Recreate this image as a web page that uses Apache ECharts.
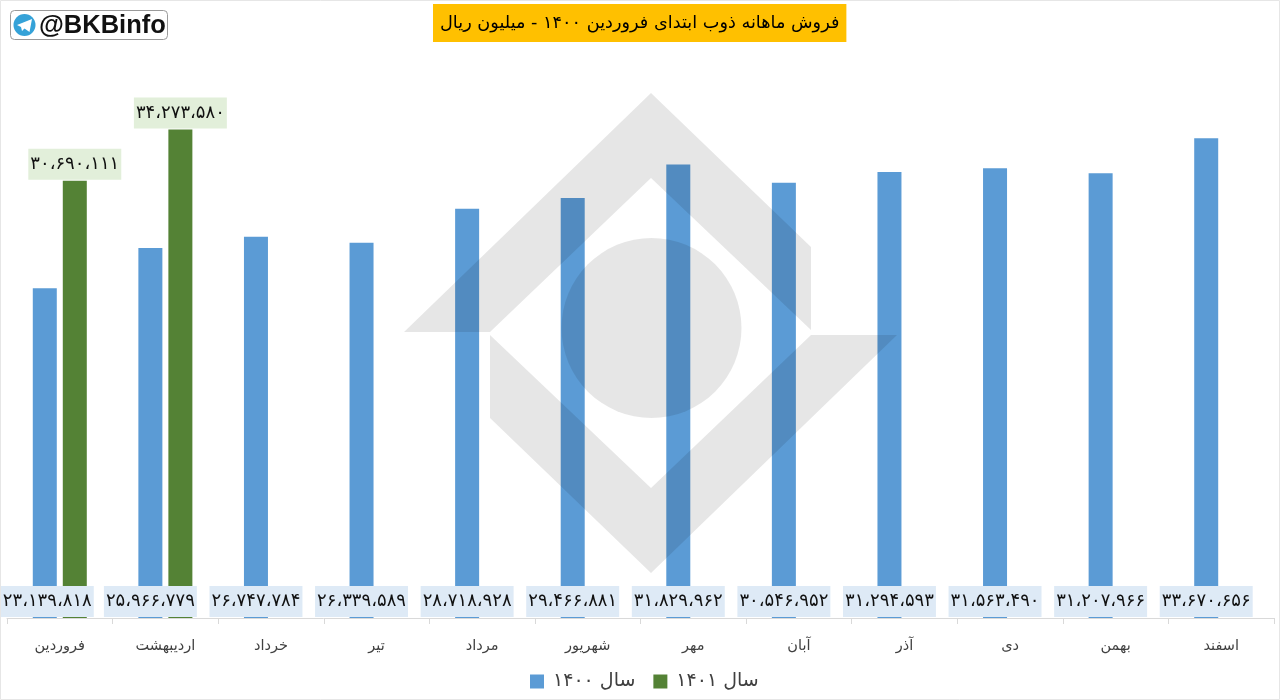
<!DOCTYPE html>
<html>
<head>
<meta charset="utf-8">
<title>فروش ماهانه ذوب</title>
<style>
	html,body{margin:0;padding:0;background:#fff;}
	#main{width:1280px;height:700px;}
</style>
<script src="https://cdn.jsdelivr.net/npm/echarts@6/dist/echarts.min.js"></script>
</head>
<body>
<div id="main"></div>
<script>
var months=['فروردین','اردیبهشت','خرداد','تیر','مرداد','شهریور','مهر','آبان','آذر','دی','بهمن','اسفند'];
var sales1400=[23139818,25966779,26747784,26339589,28718928,29466881,31829962,30546952,31294593,31563490,31207966,33670656];
var sales1401=[30690111,34273580,null,null,null,null,null,null,null,null,null,null];
var seriesNames=['سال ۱۴۰۰','سال ۱۴۰۱'];
var titleText='فروش ماهانه ذوب ابتدای فروردین ۱۴۰۰ - میلیون ریال';
var faFont='"DejaVu Sans", sans-serif';

//عدد را با ارقام فارسی و جداکننده هزارگان نشان می دهد
function toFa(v){
	var s=String(v).replace(/\B(?=(\d{3})+$)/g,'،');
	return s.replace(/\d/g,function(d){return '۰۱۲۳۴۵۶۷۸۹'.charAt(+d);});
}

var chart=echarts.init(document.getElementById('main'),null,{renderer:'canvas'});

//لوگوی پس زمینه و برچسب تلگرام
var wmStyle={fill:'rgba(0,0,0,0.098)'};
var graphics=[
	{type:'polygon',z:50,silent:true,shape:{points:[[404,332],[651,93],[811,247],[811,330],[651,178],[490,332]]},style:wmStyle},
	{type:'polygon',z:50,silent:true,shape:{points:[[490,335],[490,418],[651,573],[897,335],[811,335],[651,488]]},style:wmStyle},
	{type:'circle',z:50,silent:true,shape:{cx:651.5,cy:328,r:90},style:wmStyle},
	{type:'rect',z:60,silent:true,shape:{x:0.5,y:0.5,width:1279,height:699},style:{fill:'none',stroke:'#e6e6e6',lineWidth:1}},
	{type:'rect',z:60,silent:true,shape:{x:10.5,y:10.5,width:157,height:29,r:4},style:{fill:'#fff',stroke:'#9a9a9a',lineWidth:1}},
	{type:'circle',z:61,silent:true,shape:{cx:24.5,cy:25,r:11},style:{fill:'#35a2d8'}},
	{type:'polygon',z:62,silent:true,shape:{points:[[17,25],[32,19],[29.5,32],[24.5,28.5],[22,31],[21,27]]},style:{fill:'#fff'}},
	{type:'text',z:62,silent:true,style:{x:39,y:26,text:'@BKBinfo',fill:'#111',font:'bold 25.5px "Liberation Sans", Arial',textVerticalAlign:'middle'}}
];

var option={
	animation:false,
	backgroundColor:'#fff',
	color:['#5B9BD5','#548235'],
	textStyle:{fontFamily:faFont},
	title:{
		text:titleText,
		left:433,
		top:4,
		backgroundColor:'#FFC000',
		padding:[9,7,9,7],
		textStyle:{fontSize:17.7,fontWeight:'normal',color:'#000',fontFamily:faFont,lineHeight:20}
	},
	legend:{
		data:seriesNames,
		left:525,
		top:667,
		itemWidth:14,
		itemHeight:14,
		itemGap:18,
		icon:'rect',
		textStyle:{fontSize:19,color:'#404040',fontFamily:faFont,padding:[0,0,0,4]}
	},
	grid:{left:7,right:6,top:48,bottom:82,containLabel:false},
	xAxis:{
		type:'category',
		data:months,
		axisLine:{lineStyle:{color:'#D9D9D9',width:1}},
		axisTick:{show:true,alignWithLabel:false,length:6,lineStyle:{color:'#D9D9D9'}},
		axisLabel:{color:'#404040',fontSize:14.5,margin:21,fontFamily:faFont,interval:0}
	},
	yAxis:{type:'value',min:0,max:40000000,show:false,splitLine:{show:false}},
	series:[{
		name:seriesNames[0],
		type:'bar',
		data:sales1400,
		barWidth:24,
		barGap:'25%',
		label:{
			show:true,
			position:'insideBottom',
			distance:1,
			color:'#111',
			fontSize:18,
			fontFamily:faFont,
			lineHeight:21,
			backgroundColor:'#DEEAF6',
			padding:[5,2,5,2],
			formatter:function(p){return toFa(p.value);}
		},
		//برچسب اول کمی به راست می رود تا از لبه بیرون نزند
		labelLayout:function(p){
			return p.dataIndex===0?{dx:2.5}:{};
		}
	},{
		name:seriesNames[1],
		type:'bar',
		data:sales1401,
		barWidth:24,
		label:{
			show:true,
			position:'top',
			distance:1,
			color:'#111',
			fontSize:18,
			fontFamily:faFont,
			lineHeight:21,
			backgroundColor:'#E2EFDA',
			padding:[5,2,5,2],
			formatter:function(p){return toFa(p.value);}
		}
	}],
	graphic:{elements:graphics}
};
chart.setOption(option,true);
</script>
</body>
</html>
